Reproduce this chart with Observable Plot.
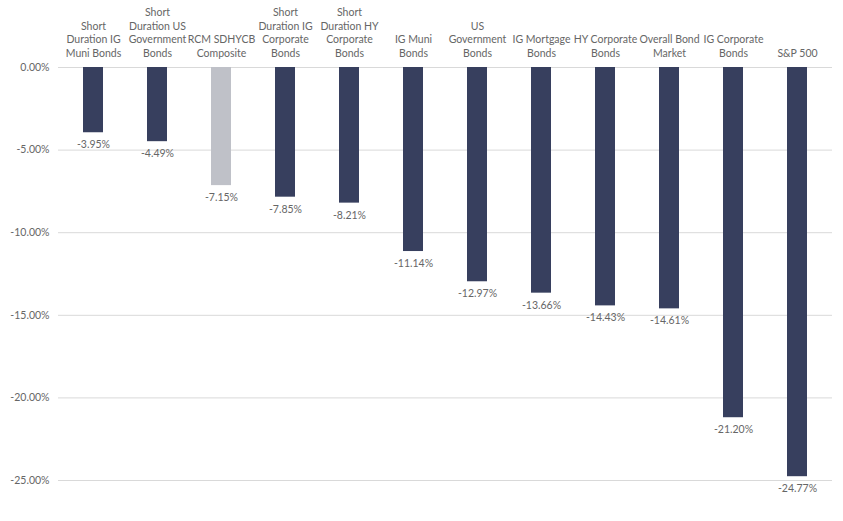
<!DOCTYPE html>
<html><head><meta charset="utf-8">
<script src="https://cdn.jsdelivr.net/npm/d3@7"></script>
<script src="https://cdn.jsdelivr.net/npm/@observablehq/plot@0.6"></script>
<style>body{margin:0;background:#fff;} #chart{width:843px;height:521px;}</style>
</head><body><div id="chart"></div>
<script>
const categories = ["Short\nDuration IG\nMuni Bonds","Short\nDuration US\nGovernment\nBonds","RCM SDHYCB\nComposite","Short\nDuration IG\nCorporate\nBonds","Short\nDuration HY\nCorporate\nBonds","IG Muni\nBonds","US\nGovernment\nBonds","IG Mortgage\nBonds","HY Corporate\nBonds","Overall Bond\nMarket","IG Corporate\nBonds","S&P 500"];
const values = [-3.95,-4.49,-7.15,-7.85,-8.21,-11.14,-12.97,-13.66,-14.43,-14.61,-21.20,-24.77];
const highlight = [false,false,true,false,false,false,false,false,false,false,false,false];
const yTicks = [0,-5,-10,-15,-20,-25];

const data = categories.map((c,i)=>({cat:c, value:values[i], hl:highlight[i]}));
const grey = "#666666";
const chart = Plot.plot({
  width:843, height:521,
  marginTop:67, marginBottom:41, marginLeft:58, marginRight:11,
  style:{fontFamily:"Lato, sans-serif", fontSize:"10.5px", color:grey, background:"#fff"},
  x:{domain:categories, paddingInner:0.69, paddingOuter:0.345, axis:null},
  y:{domain:[-25,0], ticks:yTicks, tickFormat:d=>d.toFixed(2)+"%", tickSize:0, tickPadding:9, label:null},
  marks:[
    Plot.ruleY(yTicks,{stroke:"#d9d9d9", strokeWidth:1}),
    Plot.barY(data,{x:"cat", y:"value", fill:d=>d.hl?"#bfc1c8":"#373f5e"}),
    Plot.text(data,{x:"cat", y:"value", text:d=>d.value.toFixed(2)+"%", lineAnchor:"top", dy:8, fill:grey, fontSize:10.5}),
    Plot.text(data,{x:"cat", y:0, text:"cat", lineAnchor:"bottom", dy:-11, lineHeight:1.28, fill:grey, fontSize:10.5})
  ]
});
document.getElementById("chart").appendChild(chart);
</script></body></html>
